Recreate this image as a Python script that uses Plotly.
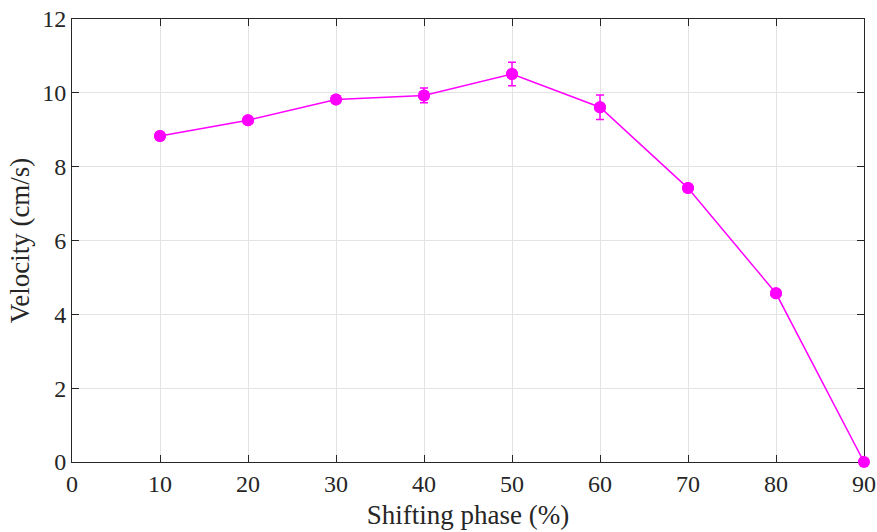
import plotly.graph_objects as go

phase = [10, 20, 30, 40, 50, 60, 70, 80, 90]
velocity = [8.83, 9.26, 9.82, 9.93, 10.51, 9.61, 7.42, 4.57, 0.0]
error = [0.0, 0.0, 0.0, 0.2, 0.32, 0.33, 0.0, 0.0, 0.0]
x_ticks = [0, 10, 20, 30, 40, 50, 60, 70, 80, 90]
y_ticks = [0, 2, 4, 6, 8, 10, 12]

SERIF = "Liberation Serif, Times New Roman, serif"
MAG = "#FF00FF"

fig = go.Figure()
# error bars (drawn first)
fig.add_trace(go.Scatter(
    x=phase, y=velocity, mode="markers",
    marker=dict(color=MAG, size=12),
    error_y=dict(type="data", array=error, visible=True, color=MAG, thickness=1.5, width=4),
    cliponaxis=True,
))
# line + markers, not clipped
fig.add_trace(go.Scatter(
    x=phase, y=velocity, mode="lines+markers",
    line=dict(color=MAG, width=1.5),
    marker=dict(color=MAG, size=12),
    cliponaxis=False,
))

axis_common = dict(
    showline=True, linecolor="#262626", linewidth=1, mirror="allticks",
    ticks="inside", ticklen=7, tickcolor="#262626",
    showgrid=True, gridcolor="#E3E3E3", gridwidth=1, zeroline=False,
    automargin=False, layer="below traces",
    tickfont=dict(family=SERIF, size=24, color="#262626"),
)

fig.update_layout(
    width=877, height=532,
    margin=dict(l=72, r=13, t=19, b=70),
    paper_bgcolor="white", plot_bgcolor="white",
    showlegend=False,
    xaxis=dict(range=[0, 90], tickvals=x_ticks,
               title=dict(text="Shifting phase (%)", font=dict(family=SERIF, size=27, color="#262626"), standoff=9),
               **axis_common),
    yaxis=dict(range=[0, 12], tickvals=y_ticks,
               title=dict(text="Velocity (cm/s)", font=dict(family=SERIF, size=27, color="#262626"), standoff=4),
               **axis_common),
)

fig.write_html("out.html")
